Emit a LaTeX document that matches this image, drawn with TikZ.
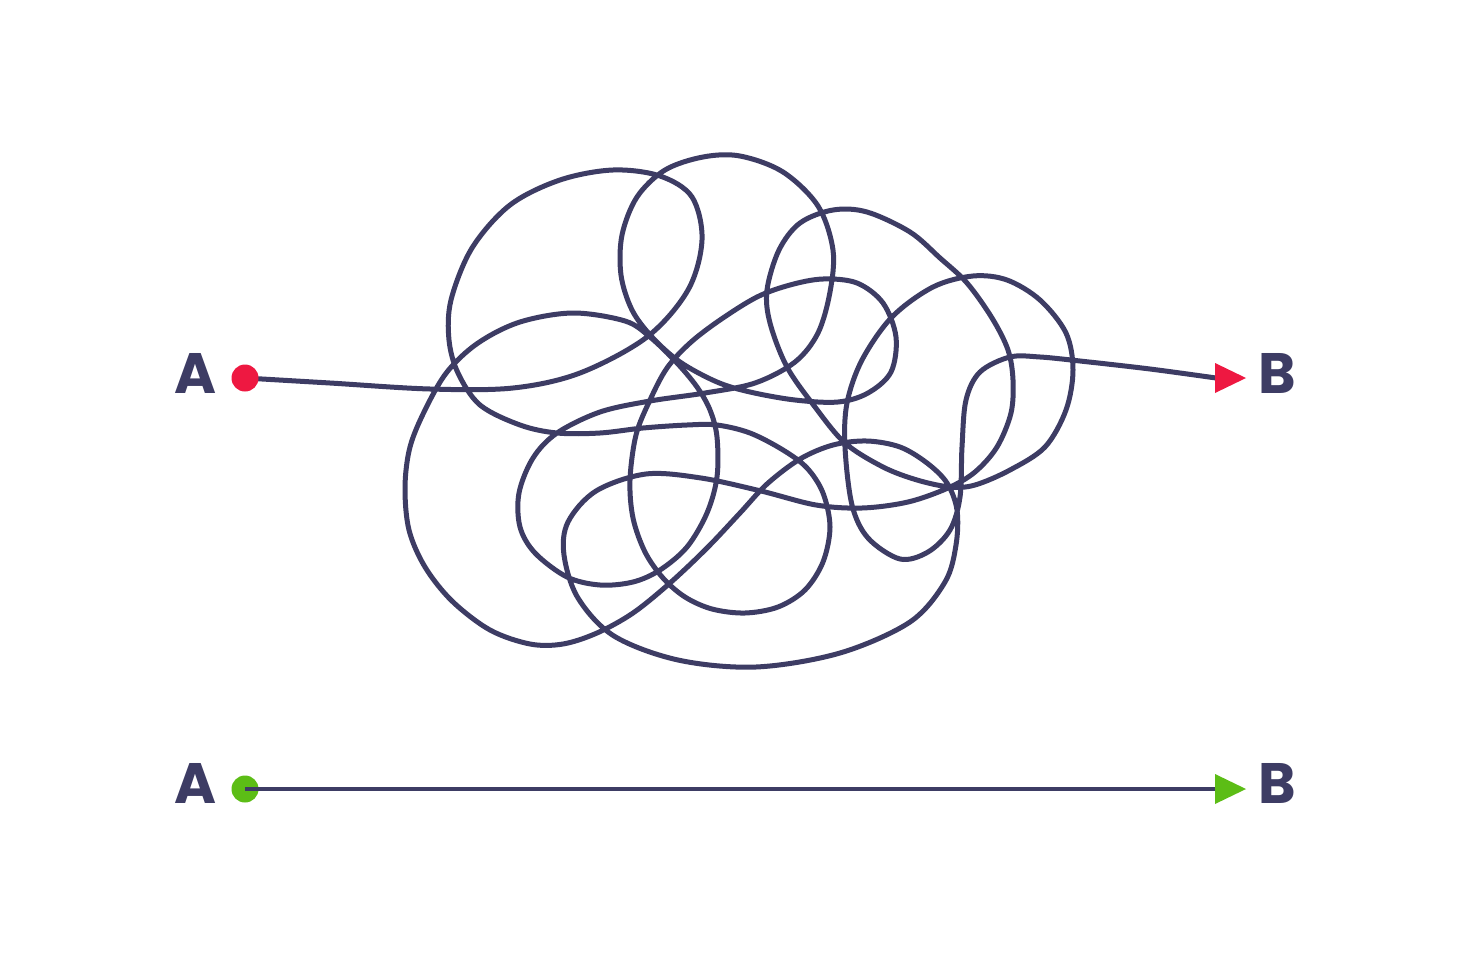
\documentclass[tikz,border=0pt]{standalone}
\usepackage{fontspec}
\setmainfont{Poppins}[UprightFont=* Bold]
\definecolor{navy}{HTML}{3D3C64}
\definecolor{redA}{HTML}{EE1841}
\definecolor{greenA}{HTML}{5CBD16}
\tikzset{
  lbl/.style={font=\fontsize{57}{60}\selectfont, text=navy, inner sep=0pt, anchor=center},
  dotnode/.style={circle, inner sep=0pt, minimum size=27pt},
  wire/.style={draw=navy, line width=5pt, line cap=round, line join=round},
}
\begin{document}
\begin{tikzpicture}[x=1pt,y=-1pt]
\fill[white] (0,0) rectangle (1470,980);
\useasboundingbox (0,0) rectangle (1470,980);

% ---- top row: tangled path ----
\node[lbl] (A1) at (196,373) {A};
\node[lbl] (B1) at (1277,373) {B};
\coordinate (s1) at (245,378);
\coordinate (e1) at (1216,378);
\draw[wire] plot[smooth, tension=0.55] coordinates {
(245,378) (330,383) (430,389) (513,388) (580,373) (647,337) (688,290) (702,240)
(692,197) (660,176) (613,170) (560,180) (510,205) (472,248) (451,300) (449,340)
(458,373) (480,405) (520,425) (557,433) (600,433) (643,428) (687,425) (717,425)
(750,433) (783,450) (807,468) (823,493) (830,527) (823,562) (805,590) (778,607)
(745,613) (712,609) (685,597) (663,578) (645,552) (633,518) (630,480) (636,435)
(650,400) (667,368) (690,343) (720,320) (757,297) (790,285) (823,279) (857,283)
(883,303) (896,337) (891,372) (868,393) (838,402) (795,400) (750,392) (717,382)
(680,362) (652,337) (632,310) (621,275) (622,235) (637,197) (665,170) (703,157)
(740,156) (783,172) (818,206) (833,250) (830,292) (818,333) (795,362) (755,383)
(705,393) (650,401) (600,412) (557,433) (533,458) (519,493) (520,527) (535,553)
(567,577) (600,585) (633,582) (660,570) (687,547) (707,513) (717,477) (717,437)
(710,410) (697,387) (677,363) (650,337) (625,321) (573,313) (520,322) (478,343)
(447,372) (425,410) (410,447) (405,487) (409,530) (425,567) (452,601) (490,630)
(530,644) (563,644) (597,633) (633,613) (670,583) (707,548) (740,513) (767,484)
(800,459) (833,445) (867,441) (900,447) (927,463) (947,483) (957,510) (956,545)
(945,582) (910,622) (840,653) (756,667) (678,660) (614,636) (578,598) (564,555)
(568,522) (596,491) (646,474) (701,478) (761,491) (816,505) (862,508) (908,502)
(948,488) (975,472) (997,447) (1011,413) (1013,380) (1008,350) (992,318) (967,283)
(940,258) (910,232) (867,212) (833,210) (800,223) (779,250) (767,290) (770,323)
(787,367) (815,407) (845,443) (883,467) (917,480) (950,487) (975,485) (1010,470)
(1045,447) (1066,410) (1073,370) (1066,333) (1040,300) (1007,280) (973,276) (933,287)
(892,317) (862,360) (847,403) (845,447) (852,505) (868,538) (900,559) (928,552)
(950,530) (960,497) (962,447) (966,400) (980,372) (1010,357) (1040,357) (1080,361)
(1150,369) (1216,378)
};
\node[dotnode, fill=redA] (a1) at (s1) {};
\fill[redA] (1215,363) -- (1246,378) -- (1215,393) -- cycle;

% ---- bottom row: straight path ----
\node[lbl] (A2) at (196,783) {A};
\node[lbl] (B2) at (1277,783) {B};
\node[dotnode, fill=greenA] (a2) at (245,789) {};
\coordinate (e2) at (1216,789);
\draw[navy, line width=4.5pt] (a2.center) -- (e2);
\fill[greenA] (1215,774) -- (1246,789) -- (1215,804) -- cycle;
\end{tikzpicture}
\end{document}
